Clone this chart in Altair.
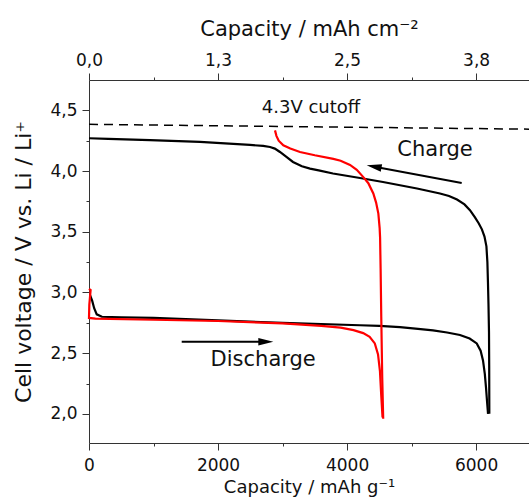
import json
import altair as alt
import pandas as pd

# ---------------- data ----------------
black_dis_cap = [15, 50, 80, 120, 200, 500, 1000, 2000, 3000, 4200, 4500, 4820, 5100, 5332, 5550, 5750, 5900,
                 6010, 6070, 6107, 6135, 6153, 6170, 6185]
black_dis_v = [2.98, 2.93, 2.87, 2.82, 2.80, 2.795, 2.79, 2.77, 2.75, 2.73, 2.725, 2.715, 2.70, 2.688, 2.67, 2.65,
               2.62, 2.58, 2.52, 2.44, 2.33, 2.22, 2.10, 2.0]

black_chg_cap = [6205, 6203, 6200, 6192, 6184, 6175, 6160, 6130, 6090, 6040, 5980, 5905, 5820, 5704, 5580, 5440,
                 5084, 4557, 4200, 3782, 3560, 3426, 3300, 3162, 3050, 2960, 2880, 2806, 2700, 2495, 1720, 946, 300, 0]
black_chg_v = [2.00, 2.40, 2.67, 2.90, 3.08, 3.25, 3.38, 3.46, 3.52, 3.57, 3.62, 3.678, 3.725, 3.765, 3.795, 3.815,
               3.856, 3.91, 3.943, 3.98, 4.005, 4.02, 4.04, 4.075, 4.12, 4.157, 4.185, 4.198, 4.207, 4.215, 4.24, 4.255, 4.265, 4.27]

red_dis_cap = [0, 25, 5, 0, 100, 1000, 2000, 3000, 3600, 3900, 4100, 4250, 4350, 4430, 4480, 4510, 4530, 4550]
red_dis_v = [3.03, 3.02, 2.90, 2.79, 2.785, 2.775, 2.765, 2.745, 2.725, 2.71, 2.69, 2.665, 2.635, 2.58, 2.49, 2.35, 2.15, 1.97]

red_chg_cap = [4560, 4545, 4530, 4520, 4512, 4505, 4485, 4450, 4407, 4330, 4252, 4150, 4046, 3900, 3787, 3500,
               3270, 3120, 3012, 2940, 2905, 2883]
red_chg_v = [1.96, 2.30, 2.80, 3.20, 3.45, 3.53, 3.65, 3.74, 3.815, 3.90, 3.95, 4.01, 4.05, 4.085, 4.10, 4.13,
             4.157, 4.185, 4.212, 4.25, 4.29, 4.335]

cutoff_cap = [0, 6820]
cutoff_v = [4.385, 4.345]

x_ticks = [0, 1000, 2000, 3000, 4000, 5000, 6000]
top_tick_labels = ["0,0", "1,3", "2,5", "3,8"]
y_ticks = [2.0, 2.25, 2.5, 2.75, 3.0, 3.25, 3.5, 3.75, 4.0, 4.25, 4.5]

notes_text = ["4.3V cutoff", "Charge", "Discharge"]
notes_cap = [3441, 5363, 2700]
notes_v = [4.516, 4.17, 2.444]
notes_size = [18, 21, 21]

arrow_names = ["charge", "discharge"]
arrow_tail_cap = [5777, 1437]
arrow_tail_v = [3.902, 2.595]
arrow_shaft_end_cap = [4426, 2733]
arrow_shaft_end_v = [4.036, 2.595]
arrow_head_cap = [4304, 2857]
arrow_head_v = [4.048, 2.595]
arrow_angle = [190.6, 0]

# ---------------- tables ----------------
def curve(name, caps, vs):
    return pd.DataFrame({"cap": caps, "volt": vs, "curve": name, "idx": range(len(caps))})

black_df = pd.concat([curve("bd", black_dis_cap, black_dis_v), curve("bc", black_chg_cap, black_chg_v)])
red_df = pd.concat([curve("rd", red_dis_cap, red_dis_v), curve("rc", red_chg_cap, red_chg_v)])
cut_df = pd.DataFrame({"cap": cutoff_cap, "volt": cutoff_v})
notes_df = pd.DataFrame({"cap": notes_cap, "volt": notes_v, "txt": notes_text, "size": notes_size})
shaft_df = pd.concat([
    pd.DataFrame({"cap": [arrow_tail_cap[i], arrow_shaft_end_cap[i]],
                  "volt": [arrow_tail_v[i], arrow_shaft_end_v[i]],
                  "arrow": arrow_names[i], "idx": [0, 1]}) for i in range(len(arrow_names))])
head_df = pd.DataFrame({"cap": arrow_head_cap, "volt": arrow_head_v, "ang": arrow_angle})

FONT = "DejaVu Sans"
xs = alt.Scale(domain=[0, 6820], nice=False, zero=False)
ys = alt.Scale(domain=[1.76, 4.75], nice=False, zero=False)

major_x = "datum.value % 2000 == 0"
major_y = "abs(datum.value * 2 - round(datum.value * 2)) < 0.001"

axis_common = dict(grid=False, domainColor="#333333", tickColor="#333333", labelColor="#111111",
                   titleColor="#111111", labelFont=FONT, labelFontSize=17, titleFont=FONT,
                   titleFontWeight="normal", labelFlush=False, labelOverlap=False, labelBound=False)

x_bottom = alt.Axis(values=x_ticks, orient="bottom", title="Capacity / mAh g⁻¹", titleFontSize=18,
                    labelExpr=f"{major_x} ? format(datum.value, 'd') : ''",
                    tickSize={"expr": f"{major_x} ? 7 : 3"}, labelPadding=7, titlePadding=5,
                    **axis_common)
x_top = alt.Axis(values=x_ticks, orient="top", title="Capacity / mAh cm⁻²", titleFontSize=21,
                 labelExpr=f"{major_x} ? {json.dumps(top_tick_labels)}[datum.value / 2000] : ''",
                 tickSize={"expr": f"{major_x} ? 7 : 3"}, labelPadding=4, titlePadding=12,
                 **axis_common)
y_left = alt.Axis(values=y_ticks, orient="left", title="Cell voltage / V vs. Li / Li⁺", titleFontSize=22,
                  labelExpr=f"{major_y} ? replace(format(datum.value, '.1f'), '.', ',') : ''",
                  tickSize={"expr": f"{major_y} ? 7 : 3"}, labelPadding=5, titlePadding=14,
                  **axis_common)

black = alt.Chart(black_df).mark_line(color="#000000", strokeWidth=2.2).encode(
    x=alt.X("cap:Q", scale=xs, axis=x_bottom),
    y=alt.Y("volt:Q", scale=ys, axis=y_left),
    detail="curve:N",
    order="idx:Q",
)
red = alt.Chart(red_df).mark_line(color="#ff0000", strokeWidth=2.2).encode(
    x=alt.X("cap:Q", scale=xs, axis=None),
    y=alt.Y("volt:Q", scale=ys, axis=None),
    detail="curve:N",
    order="idx:Q",
)
cut = alt.Chart(cut_df).mark_line(color="#000000", strokeWidth=1.5, strokeDash=[9, 6]).encode(
    x=alt.X("cap:Q", scale=xs, axis=x_top),
    y=alt.Y("volt:Q", scale=ys, axis=None),
)
shafts = alt.Chart(shaft_df).mark_line(color="#000000", strokeWidth=2).encode(
    x=alt.X("cap:Q", scale=xs, axis=None),
    y=alt.Y("volt:Q", scale=ys, axis=None),
    detail="arrow:N",
    order="idx:Q",
)
heads = alt.Chart(head_df).mark_point(shape="M0,0L-2,-0.5L-2,0.5Z", filled=True, color="#000000",
                                      size=225, opacity=1).encode(
    x=alt.X("cap:Q", scale=xs, axis=None),
    y=alt.Y("volt:Q", scale=ys, axis=None),
    angle=alt.Angle("ang:Q", scale=None),
)
texts = alt.Chart(notes_df).mark_text(font=FONT, color="#111111", align="center", baseline="middle").encode(
    x=alt.X("cap:Q", scale=xs, axis=None),
    y=alt.Y("volt:Q", scale=ys, axis=None),
    text="txt:N",
    size=alt.Size("size:Q", scale=None, legend=None),
)

chart = alt.layer(black, red, cut, shafts, heads, texts).resolve_axis(x="independent", y="independent").properties(
    width=440, height=363,
    padding={"left": 89, "top": 80, "right": 0, "bottom": 54},
    autosize=alt.AutoSizeParams(type="none"),
).configure_view(stroke=None)

chart.save("out.html", embed_options={"renderer": "svg", "actions": False})
